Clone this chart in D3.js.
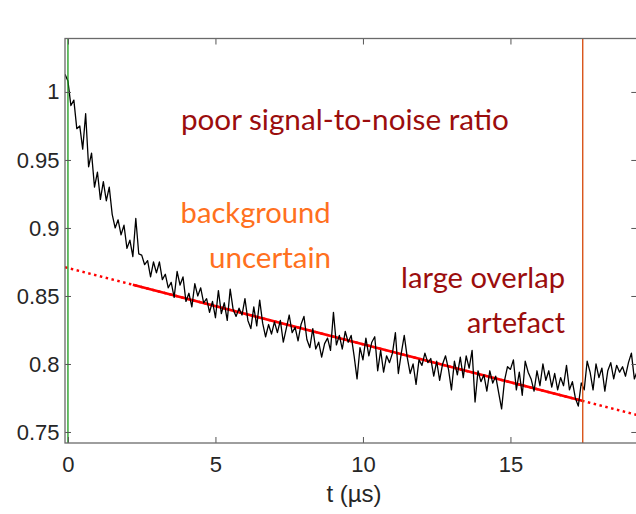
<!DOCTYPE html>
<html>
<head>
<meta charset="utf-8">
<script src="https://cdn.jsdelivr.net/npm/d3@7"></script>
<style>
  body { margin: 0; background: #fff; }
  svg { display: block; }
</style>
</head>
<body>
<script>
var width = 636,
  height = 514,
  plotLeft = 65,
  plotRight = 637.3,
  plotTop = 38.5,
  plotBottom = 443;

// sampled trace, one value every 0.1 µs starting at -0.1 µs
var tStart = -0.1,
  tStep = 0.1;

var signal = [
  1.013, 1.008, 0.990, 0.994, 0.973, 0.975, 0.958, 0.984, 0.945, 0.955,
  0.930, 0.941, 0.921, 0.934, 0.920, 0.930, 0.910, 0.900, 0.906, 0.895,
  0.902, 0.885, 0.891, 0.879, 0.907, 0.881, 0.880, 0.873, 0.876, 0.864,
  0.875, 0.867, 0.875,
  0.862, 0.866, 0.856, 0.860, 0.849, 0.868, 0.858, 0.864, 0.846, 0.852,
  0.842, 0.859, 0.850, 0.856, 0.845, 0.848, 0.838, 0.846, 0.834, 0.854,
  0.837, 0.845, 0.832, 0.855, 0.840, 0.835, 0.841, 0.836, 0.848, 0.832,
  0.826, 0.842, 0.828, 0.847, 0.830,
  0.820, 0.829, 0.822, 0.831, 0.823, 0.832, 0.816, 0.826, 0.836, 0.823,
  0.827, 0.817, 0.829, 0.835, 0.818, 0.812, 0.826, 0.811, 0.816, 0.805,
  0.815, 0.819, 0.810, 0.838, 0.814, 0.821, 0.811, 0.824, 0.816, 0.821,
  0.806, 0.789, 0.812, 0.803, 0.819, 0.806,
  0.816, 0.820, 0.795, 0.810, 0.794, 0.806, 0.801, 0.808, 0.823, 0.793,
  0.808, 0.821, 0.805, 0.793, 0.800, 0.785, 0.803, 0.799, 0.808, 0.801,
  0.804, 0.791, 0.802, 0.788, 0.800, 0.806, 0.796, 0.781, 0.802, 0.792,
  0.805, 0.790, 0.806, 0.797, 0.810,
  0.772, 0.795, 0.787, 0.792, 0.780, 0.795, 0.786, 0.791, 0.779, 0.767,
  0.788, 0.798, 0.796, 0.803, 0.781, 0.794, 0.777, 0.802, 0.794, 0.789,
  0.780, 0.795, 0.784, 0.800, 0.788, 0.795, 0.783, 0.793, 0.781, 0.790,
  0.784, 0.799, 0.781, 0.787,
  0.775, 0.769, 0.786, 0.781, 0.802, 0.794, 0.781, 0.800, 0.790, 0.797,
  0.780, 0.795, 0.801, 0.789, 0.799, 0.794, 0.798, 0.791, 0.801, 0.808,
  0.789, 0.795
];

// background fit, read at a few times
var fitT = [-0.1, 2.1, 10, 17.4, 19.3];
var fitV = [0.8711, 0.8588, 0.8145, 0.7731, 0.7625];

var fitStart = 2.2,
  zeroTime = 0,
  cutoffTime = 17.45;

var xTicks = [0, 5, 10, 15];
var xTickLabels = ["0", "5", "10", "15"];
var yTicks = [0.75, 0.8, 0.85, 0.9, 0.95, 1];
var yTickLabels = ["0.75", "0.8", "0.85", "0.9", "0.95", "1"];

var noteTexts = [
  "poor signal-to-noise ratio",
  "background",
  "uncertain",
  "large overlap",
  "artefact"
];
var xLabel = "t (µs)";

var trace = signal.map((v, i) => ({ t: tStart + i * tStep, v: v }));
var fit = fitT.map((t, i) => ({ t: t, v: fitV[i] }));

var xScale = d3.scaleLinear().domain([-0.1, 19.3]).range([plotLeft, plotRight]);
var yScale = d3.scaleLinear().domain([0.7419, 1.0393]).range([plotBottom, plotTop]);

var svg = d3
  .select("body")
  .append("svg")
  .attr("width", width)
  .attr("height", height)
  .style("font-family", "'Liberation Sans', Arial, sans-serif");

svg
  .append("defs")
  .append("clipPath")
  .attr("id", "plot-clip")
  .append("rect")
  .attr("x", plotLeft)
  .attr("y", plotTop)
  .attr("width", plotRight - plotLeft)
  .attr("height", plotBottom - plotTop);

var plot = svg.append("g").attr("clip-path", "url(#plot-clip)");

var line = d3
  .line()
  .x((d) => xScale(d.t))
  .y((d) => yScale(d.v));

var fitInterp = d3.scaleLinear().domain(fitT).range(fitV);

// dotted extrapolation of the background
plot
  .append("path")
  .datum(fit)
  .attr("fill", "none")
  .attr("stroke", "#ff0000")
  .attr("stroke-width", 2.4)
  .attr("stroke-dasharray", "2.5,3.5")
  .attr("d", line);

plot
  .append("path")
  .datum(
    [{ t: fitStart, v: fitInterp(fitStart) }]
      .concat(fit.filter((d) => d.t > fitStart && d.t < cutoffTime))
      .concat([{ t: cutoffTime, v: fitInterp(cutoffTime) }])
  )
  .attr("fill", "none")
  .attr("stroke", "#ff0000")
  .attr("stroke-width", 2.6)
  .attr("d", line);

plot
  .append("path")
  .datum(trace)
  .attr("fill", "none")
  .attr("stroke", "#000")
  .attr("stroke-width", 1.3)
  .attr("stroke-linejoin", "round")
  .attr("d", line);

plot
  .append("line")
  .attr("x1", xScale(zeroTime))
  .attr("x2", xScale(zeroTime))
  .attr("y1", plotTop)
  .attr("y2", plotBottom)
  .attr("stroke", "#1a9a1a")
  .attr("stroke-width", 1.3);

plot
  .append("line")
  .attr("x1", xScale(cutoffTime))
  .attr("x2", xScale(cutoffTime))
  .attr("y1", plotTop)
  .attr("y2", plotBottom)
  .attr("stroke", "#d95319")
  .attr("stroke-width", 1.4);

// axes, ticks pointing inwards like a boxed MATLAB plot
var xAxis = d3
  .axisBottom(xScale)
  .tickValues(xTicks)
  .tickFormat((d, i) => xTickLabels[i])
  .tickSizeInner(-6)
  .tickSizeOuter(0)
  .tickPadding(13);

var yAxis = d3
  .axisLeft(yScale)
  .tickValues(yTicks)
  .tickFormat((d, i) => yTickLabels[i])
  .tickSizeInner(-6)
  .tickSizeOuter(0)
  .tickPadding(5.5);

var topAxis = d3
  .axisTop(xScale)
  .tickValues(xTicks)
  .tickFormat("")
  .tickSizeInner(-6)
  .tickSizeOuter(0);

var rightAxis = d3
  .axisRight(yScale)
  .tickValues(yTicks)
  .tickFormat("")
  .tickSizeInner(-6)
  .tickSizeOuter(0);

var axes = [
  [xAxis, `translate(0,${plotBottom})`],
  [yAxis, `translate(${plotLeft},0)`],
  [topAxis, `translate(0,${plotTop})`],
  [rightAxis, `translate(${plotRight},0)`]
];

axes.forEach((a) => {
  var g = svg.append("g").attr("transform", a[1]).call(a[0]);
  g.select(".domain").remove();
  g.selectAll(".tick line").attr("stroke", "#555").attr("stroke-width", 1);
  g.selectAll(".tick text")
    .attr("fill", "#262626")
    .style("font-size", "22px");
});

svg
  .append("rect")
  .attr("x", plotLeft)
  .attr("y", plotTop)
  .attr("width", plotRight - plotLeft)
  .attr("height", plotBottom - plotTop)
  .attr("fill", "none")
  .attr("stroke", "#6a6a6a")
  .attr("stroke-width", 1.3);

svg
  .append("text")
  .attr("x", 354)
  .attr("y", 502)
  .attr("text-anchor", "middle")
  .attr("fill", "#262626")
  .style("font-size", "24px")
  .text(xLabel);

// annotations: [text index, t, v, anchor, colour, width in px]
var notes = [
  [0, 3.83, 0.972, "start", "#9b0d0d", 328],
  [1, 3.82, 0.9034, "start", "#ff7020", 150],
  [2, 8.92, 0.8704, "end", "#ff7020", 122],
  [3, 16.85, 0.8557, "end", "#9b0d0d", 164],
  [4, 16.85, 0.8226, "end", "#9b0d0d", 98]
];

svg
  .append("g")
  .selectAll("text")
  .data(notes)
  .enter()
  .append("text")
  .attr("x", (d) => xScale(d[1]))
  .attr("y", (d) => yScale(d[2]))
  .attr("text-anchor", (d) => d[3])
  .attr("fill", (d) => d[4])
  .attr("textLength", (d) => d[5])
  .attr("lengthAdjust", "spacingAndGlyphs")
  .style("font-family", "Lato, 'Open Sans', sans-serif")
  .style("font-size", "29px")
  .text((d) => noteTexts[d[0]]);
</script>
</body>
</html>
